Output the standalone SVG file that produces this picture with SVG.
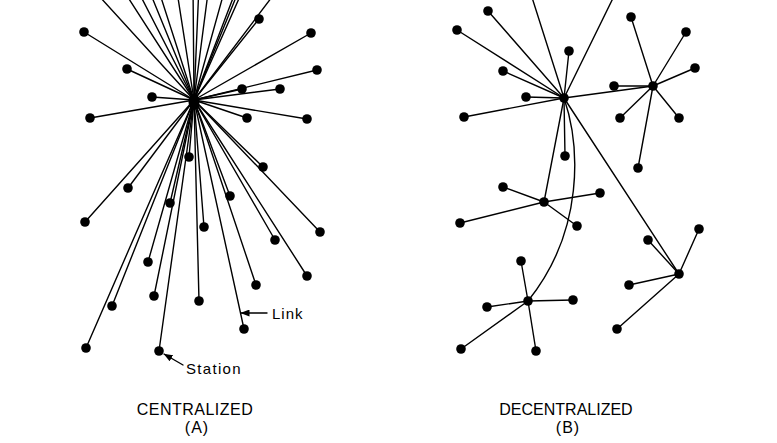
<svg xmlns="http://www.w3.org/2000/svg" width="777" height="443" viewBox="0 0 777 443">
<style>
.e{stroke:#000;stroke-width:1.4;fill:none;stroke-linecap:round}
.n{fill:#000}
.t{font-family:"Liberation Sans",Arial,sans-serif;fill:#000}
</style>
<defs>
<marker id="ah" markerUnits="userSpaceOnUse" markerWidth="9" markerHeight="7" refX="8.5" refY="3.5" orient="auto">
<path d="M0,0 L9,3.5 L0,7 z" fill="#000"/>
</marker>
</defs>
<rect width="777" height="443" fill="#fff"/>
<g id="connectors">
<line class="e" x1="194" y1="100" x2="84" y2="32"/>
<line class="e" x1="194" y1="100" x2="259" y2="19"/>
<line class="e" x1="194" y1="100" x2="311" y2="33"/>
<line class="e" x1="194" y1="100" x2="127" y2="69"/>
<line class="e" x1="194" y1="100" x2="317" y2="70"/>
<line class="e" x1="194" y1="100" x2="242" y2="89"/>
<line class="e" x1="194" y1="100" x2="280" y2="89"/>
<line class="e" x1="194" y1="100" x2="152" y2="97"/>
<line class="e" x1="194" y1="100" x2="90" y2="118"/>
<line class="e" x1="194" y1="100" x2="247" y2="118"/>
<line class="e" x1="194" y1="100" x2="307" y2="119"/>
<line class="e" x1="194" y1="100" x2="189" y2="157"/>
<line class="e" x1="194" y1="100" x2="263" y2="167"/>
<line class="e" x1="194" y1="100" x2="128" y2="188"/>
<line class="e" x1="194" y1="100" x2="230" y2="196"/>
<line class="e" x1="194" y1="100" x2="170" y2="203"/>
<line class="e" x1="194" y1="100" x2="85" y2="222"/>
<line class="e" x1="194" y1="100" x2="204" y2="227"/>
<line class="e" x1="194" y1="100" x2="320" y2="232"/>
<line class="e" x1="194" y1="100" x2="275" y2="240"/>
<line class="e" x1="194" y1="100" x2="148" y2="262"/>
<line class="e" x1="194" y1="100" x2="307" y2="276"/>
<line class="e" x1="194" y1="100" x2="256" y2="285"/>
<line class="e" x1="194" y1="100" x2="154" y2="296"/>
<line class="e" x1="194" y1="100" x2="199" y2="301"/>
<line class="e" x1="194" y1="100" x2="112" y2="306"/>
<line class="e" x1="194" y1="100" x2="244" y2="329"/>
<line class="e" x1="194" y1="100" x2="86" y2="348"/>
<line class="e" x1="194" y1="100" x2="159" y2="351"/>
<line class="e" x1="194" y1="100" x2="89" y2="-15"/>
<line class="e" x1="194" y1="100" x2="120" y2="-15"/>
<line class="e" x1="194" y1="100" x2="135" y2="-15"/>
<line class="e" x1="194" y1="100" x2="147" y2="-15"/>
<line class="e" x1="194" y1="100" x2="157" y2="-15"/>
<line class="e" x1="194" y1="100" x2="176" y2="-15"/>
<line class="e" x1="194" y1="100" x2="193" y2="-15"/>
<line class="e" x1="194" y1="100" x2="199" y2="-15"/>
<line class="e" x1="194" y1="100" x2="209" y2="-15"/>
<line class="e" x1="194" y1="100" x2="226" y2="-15"/>
<line class="e" x1="194" y1="100" x2="238" y2="-15"/>
<line class="e" x1="194" y1="100" x2="241" y2="-15"/>
<line class="e" x1="194" y1="100" x2="245" y2="-15"/>
<line class="e" x1="194" y1="100" x2="281" y2="-15"/>
<line class="e" x1="564" y1="98" x2="488" y2="11"/>
<line class="e" x1="564" y1="98" x2="457" y2="30"/>
<line class="e" x1="564" y1="98" x2="569" y2="51"/>
<line class="e" x1="564" y1="98" x2="503" y2="71"/>
<line class="e" x1="564" y1="98" x2="526" y2="97"/>
<line class="e" x1="564" y1="98" x2="464" y2="117"/>
<line class="e" x1="564" y1="98" x2="565" y2="156"/>
<line class="e" x1="564" y1="98" x2="653" y2="86"/>
<line class="e" x1="564" y1="98" x2="544" y2="202"/>
<line class="e" x1="564" y1="98" x2="679" y2="274"/>
<line class="e" x1="564" y1="98" x2="529" y2="-12"/>
<line class="e" x1="564" y1="98" x2="618" y2="-12"/>
<path class="e" d="M564,98 C580,145 585,230 528,301"/>
<line class="e" x1="653" y1="86" x2="631" y2="17"/>
<line class="e" x1="653" y1="86" x2="686" y2="32"/>
<line class="e" x1="653" y1="86" x2="695" y2="68"/>
<line class="e" x1="653" y1="86" x2="614" y2="86"/>
<line class="e" x1="653" y1="86" x2="620" y2="118"/>
<line class="e" x1="653" y1="86" x2="679" y2="118"/>
<line class="e" x1="653" y1="86" x2="638" y2="168"/>
<line class="e" x1="544" y1="202" x2="503" y2="187"/>
<line class="e" x1="544" y1="202" x2="600" y2="193"/>
<line class="e" x1="544" y1="202" x2="460" y2="223"/>
<line class="e" x1="544" y1="202" x2="577" y2="226"/>
<line class="e" x1="679" y1="274" x2="648" y2="240"/>
<line class="e" x1="679" y1="274" x2="699" y2="229"/>
<line class="e" x1="679" y1="274" x2="629" y2="285"/>
<line class="e" x1="679" y1="274" x2="617" y2="329"/>
<line class="e" x1="528" y1="301" x2="487" y2="307"/>
<line class="e" x1="528" y1="301" x2="573" y2="300"/>
<line class="e" x1="528" y1="301" x2="461" y2="349"/>
<line class="e" x1="528" y1="301" x2="536" y2="351"/>
<line class="e" x1="528" y1="301" x2="521" y2="261"/>
</g>
<g id="centralized-nodes">
<g id="c-hub"><ellipse class="n" cx="194" cy="102" rx="5.5" ry="8"/></g>
<g id="c1"><circle class="n" cx="84" cy="32" r="4.8"/></g>
<g id="c2"><circle class="n" cx="259" cy="19" r="4.8"/></g>
<g id="c3"><circle class="n" cx="311" cy="33" r="4.8"/></g>
<g id="c4"><circle class="n" cx="127" cy="69" r="4.8"/></g>
<g id="c5"><circle class="n" cx="317" cy="70" r="4.8"/></g>
<g id="c6"><circle class="n" cx="242" cy="89" r="4.8"/></g>
<g id="c7"><circle class="n" cx="280" cy="89" r="4.8"/></g>
<g id="c8"><circle class="n" cx="152" cy="97" r="4.8"/></g>
<g id="c9"><circle class="n" cx="90" cy="118" r="4.8"/></g>
<g id="c10"><circle class="n" cx="247" cy="118" r="4.8"/></g>
<g id="c11"><circle class="n" cx="307" cy="119" r="4.8"/></g>
<g id="c12"><circle class="n" cx="189" cy="157" r="4.8"/></g>
<g id="c13"><circle class="n" cx="263" cy="167" r="4.8"/></g>
<g id="c14"><circle class="n" cx="128" cy="188" r="4.8"/></g>
<g id="c15"><circle class="n" cx="230" cy="196" r="4.8"/></g>
<g id="c16"><circle class="n" cx="170" cy="203" r="4.8"/></g>
<g id="c17"><circle class="n" cx="85" cy="222" r="4.8"/></g>
<g id="c18"><circle class="n" cx="204" cy="227" r="4.8"/></g>
<g id="c19"><circle class="n" cx="320" cy="232" r="4.8"/></g>
<g id="c20"><circle class="n" cx="275" cy="240" r="4.8"/></g>
<g id="c21"><circle class="n" cx="148" cy="262" r="4.8"/></g>
<g id="c22"><circle class="n" cx="307" cy="276" r="4.8"/></g>
<g id="c23"><circle class="n" cx="256" cy="285" r="4.8"/></g>
<g id="c24"><circle class="n" cx="154" cy="296" r="4.8"/></g>
<g id="c25"><circle class="n" cx="199" cy="301" r="4.8"/></g>
<g id="c26"><circle class="n" cx="112" cy="306" r="4.8"/></g>
<g id="c27"><circle class="n" cx="244" cy="329" r="4.8"/></g>
<g id="c28"><circle class="n" cx="86" cy="348" r="4.8"/></g>
<g id="c29"><circle class="n" cx="159" cy="351" r="4.8"/></g>
</g>
<g id="decentralized-nodes">
<g id="h1"><circle class="n" cx="564" cy="98" r="4.8"/></g>
<g id="h2"><circle class="n" cx="653" cy="86" r="4.8"/></g>
<g id="h3"><circle class="n" cx="544" cy="202" r="4.8"/></g>
<g id="h4"><circle class="n" cx="679" cy="274" r="4.8"/></g>
<g id="h5"><circle class="n" cx="528" cy="301" r="4.8"/></g>
<g id="d1"><circle class="n" cx="488" cy="11" r="4.8"/></g>
<g id="d2"><circle class="n" cx="457" cy="30" r="4.8"/></g>
<g id="d3"><circle class="n" cx="569" cy="51" r="4.8"/></g>
<g id="d4"><circle class="n" cx="503" cy="71" r="4.8"/></g>
<g id="d5"><circle class="n" cx="526" cy="97" r="4.8"/></g>
<g id="d6"><circle class="n" cx="464" cy="117" r="4.8"/></g>
<g id="d7"><circle class="n" cx="565" cy="156" r="4.8"/></g>
<g id="d8"><circle class="n" cx="631" cy="17" r="4.8"/></g>
<g id="d9"><circle class="n" cx="686" cy="32" r="4.8"/></g>
<g id="d10"><circle class="n" cx="695" cy="68" r="4.8"/></g>
<g id="d11"><circle class="n" cx="614" cy="86" r="4.8"/></g>
<g id="d12"><circle class="n" cx="620" cy="118" r="4.8"/></g>
<g id="d13"><circle class="n" cx="679" cy="118" r="4.8"/></g>
<g id="d14"><circle class="n" cx="638" cy="168" r="4.8"/></g>
<g id="d15"><circle class="n" cx="503" cy="187" r="4.8"/></g>
<g id="d16"><circle class="n" cx="600" cy="193" r="4.8"/></g>
<g id="d17"><circle class="n" cx="460" cy="223" r="4.8"/></g>
<g id="d18"><circle class="n" cx="577" cy="226" r="4.8"/></g>
<g id="d19"><circle class="n" cx="648" cy="240" r="4.8"/></g>
<g id="d20"><circle class="n" cx="699" cy="229" r="4.8"/></g>
<g id="d21"><circle class="n" cx="629" cy="285" r="4.8"/></g>
<g id="d22"><circle class="n" cx="617" cy="329" r="4.8"/></g>
<g id="d23"><circle class="n" cx="487" cy="307" r="4.8"/></g>
<g id="d24"><circle class="n" cx="573" cy="300" r="4.8"/></g>
<g id="d25"><circle class="n" cx="461" cy="349" r="4.8"/></g>
<g id="d26"><circle class="n" cx="536" cy="351" r="4.8"/></g>
<g id="d27"><circle class="n" cx="521" cy="261" r="4.8"/></g>
</g>
<g id="annotations">
<line class="e" x1="267" y1="313" x2="241" y2="313" marker-end="url(#ah)"/>
<text class="t" x="272" y="319" font-size="15" letter-spacing="1">Link</text>
<line class="e" x1="183" y1="365" x2="164" y2="354" marker-end="url(#ah)"/>
<text class="t" x="186" y="374" font-size="15" letter-spacing="1.3">Station</text>
<text class="t" x="195" y="415" font-size="16" letter-spacing="0.5" text-anchor="middle">CENTRALIZED</text>
<text class="t" x="197" y="433" font-size="16" letter-spacing="1" text-anchor="middle">(A)</text>
<text class="t" x="566" y="415" font-size="16" text-anchor="middle">DECENTRALIZED</text>
<text class="t" x="568" y="433" font-size="16" letter-spacing="1" text-anchor="middle">(B)</text>
</g>
</svg>
